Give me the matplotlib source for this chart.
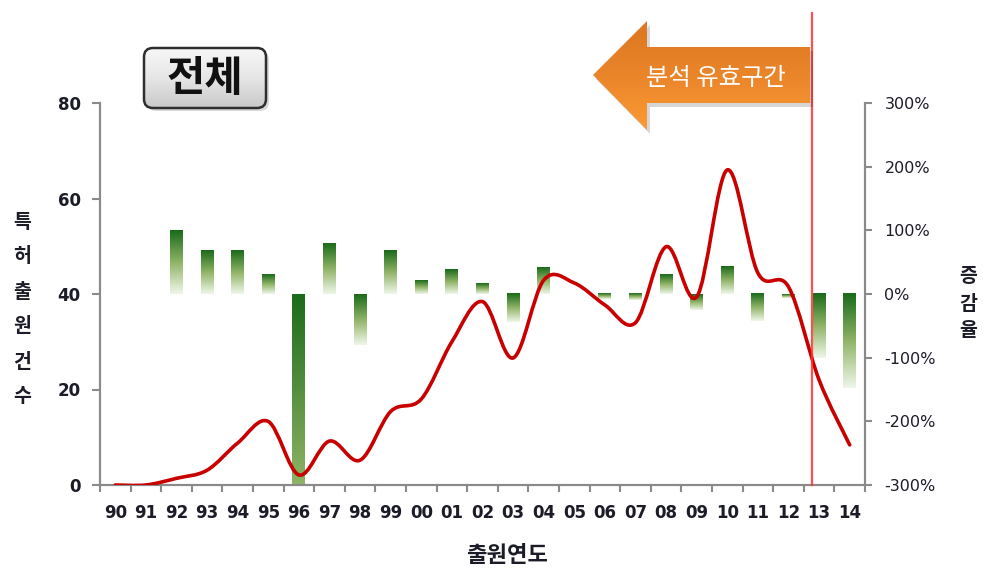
import matplotlib
matplotlib.use("Agg")
import matplotlib.pyplot as plt
import numpy as np
from matplotlib.colors import LinearSegmentedColormap
from matplotlib.patches import PathPatch, Polygon, FancyBboxPatch
from matplotlib.path import Path

plt.rcParams['font.family'] = ['Noto Sans CJK KR', 'DejaVu Sans']

# filing year labels (1990 - 2014)
years = ['90', '91', '92', '93', '94', '95', '96', '97', '98', '99',
         '00', '01', '02', '03', '04', '05', '06', '07', '08', '09',
         '10', '11', '12', '13', '14']
# number of applications per year (left axis)
counts = [0, 0, 1.4, 3.1, 8.8, 13.3, 2.1, 9.2, 5.2, 15.4,
          18, 30, 38.4, 26.6, 42.9, 42.3, 37.7, 34, 49.9, 39.4,
          66, 44.4, 41.5, 22, 8.4]
# year-on-year change in % (right axis)
rates = [0, 0, 100, 68, 68, 31, -300, 80, -80, 68,
         21, 39, 17, -44, 41, 0, -8, -10, 31, -25,
         43, -43, -6, -101, -148]
cutoff = 22.78  # end of the valid analysis window

W, H = 983, 570
fig = plt.figure(figsize=(W / 100, H / 100), dpi=100)
ax2 = fig.add_axes([100 / W, 85 / H, 765 / W, 382 / H])
ax = ax2.twinx()
ax.yaxis.tick_left()
ax2.yaxis.tick_right()
ax.set_zorder(ax2.get_zorder() + 1)
ax.patch.set_visible(False)

x = np.arange(len(years))
txt = '#1c1c28'
grey = '#8a8a8a'
num_font = 'DejaVu Sans'

# growth-rate bars with a vertical green gradient (dark on top)
greens = LinearSegmentedColormap.from_list('g', ['#1b6b1b', '#8fb366', '#eef6e8'])
bw = 0.42
for xi, r in zip(x, rates):
    if r == 0:
        continue
    t_end = min(1.0, 150 / abs(r))
    grad = np.linspace(0, t_end, 64).reshape(-1, 1)
    top, bot = max(r, 0), min(r, 0)
    ax2.imshow(grad, cmap=greens, vmin=0, vmax=1, aspect='auto', origin='upper',
               extent=[xi - bw / 2, xi + bw / 2, bot, top], zorder=2)

ax2.set_xlim(-0.5, len(years) - 0.5)
ax2.set_ylim(-300, 300)
ax2.set_yticks(np.arange(-300, 301, 100))
ax2.set_yticklabels([f'{v}%' for v in range(-300, 301, 100)])

# smoothed count line: cubic bezier segments through every point
pts = np.column_stack([x, counts]).astype(float)
ext = np.vstack([pts[0], pts, pts[-1]])
verts = [pts[0]]
codes = [Path.MOVETO]
for i in range(len(pts) - 1):
    p0, p1, p2, p3 = ext[i], ext[i + 1], ext[i + 2], ext[i + 3]
    c1 = p1 + (p2 - p0) / 6
    c2 = p2 - (p3 - p1) / 6
    verts += [c1, c2, p2]
    codes += [Path.CURVE4] * 3
ax.add_patch(PathPatch(Path(verts, codes), fill=False, edgecolor='#c80000',
                       lw=2.6, capstyle='round', joinstyle='round', zorder=3))

ax.axvline(cutoff, ymin=0, ymax=1.235, color='#ff3030', lw=1.6, alpha=0.85,
           clip_on=False, zorder=4)

ax.set_xlim(-0.5, len(years) - 0.5)
ax.set_ylim(0, 80)
ax.set_yticks(np.arange(0, 81, 20))

for a in (ax, ax2):
    a.spines['top'].set_visible(False)
    for s in ('left', 'right', 'bottom'):
        a.spines[s].set_color(grey)
        a.spines[s].set_linewidth(1.5)

ax2.set_xticks(x)
ax2.set_xticklabels(years)
ax2.set_xticks(np.arange(-0.5, len(years)), minor=True)
ax2.tick_params(axis='x', which='major', length=0, pad=14, labelsize=12,
                labelcolor=txt)
ax2.tick_params(axis='x', which='minor', length=5, width=1.5, color=grey)
for lab in ax2.get_xticklabels():
    lab.set_fontweight('bold')
    lab.set_family(num_font)
ax2.tick_params(axis='y', length=5, width=1.5, color=grey, pad=9,
                labelsize=11.5, labelcolor=txt)
for lab in ax2.get_yticklabels():
    lab.set_family(num_font)
ax.tick_params(axis='y', length=6, width=1.5, color=grey, pad=8,
               labelsize=12, labelcolor=txt)
for lab in ax.get_yticklabels():
    lab.set_fontweight('bold')
    lab.set_family(num_font)
ax.tick_params(axis='x', bottom=False, labelbottom=False)

# overlay in pixel coordinates for the callouts and axis titles
ov = fig.add_axes([0, 0, 1, 1], zorder=10)
ov.axis('off')

# axis titles, written one character per line
for ch, yp in zip('특허출원건수', [222, 257, 292, 327, 362, 397]):
    ov.text(22, yp, ch, ha='center', va='center', fontsize=14,
            fontweight='bold', color=txt)
for ch, yp in zip('증감율', [277, 304, 331]):
    ov.text(968, yp, ch, ha='center', va='center', fontsize=14,
            fontweight='bold', color=txt)
ov.text(507, 555, '출원연도', ha='center', va='center', fontsize=16,
        fontweight='bold', color=txt)

# "분석 유효구간" arrow pointing left from the cutoff line
arrow_pts = [(593, 75), (647, 21), (647, 47), (810, 47),
             (810, 103), (647, 103), (647, 130)]
shadow = Polygon([(px + 3, py + 4) for px, py in arrow_pts], closed=True,
                 facecolor='#000000', alpha=0.16, edgecolor='none', zorder=1)
ov.add_patch(shadow)
arrow = Polygon(arrow_pts, closed=True, facecolor='none', edgecolor='none',
                zorder=2)
ov.add_patch(arrow)
orange = LinearSegmentedColormap.from_list('o', ['#dc761f', '#ea852a', '#fb9b35'])
im = ov.imshow(np.linspace(0, 1, 64).reshape(-1, 1), cmap=orange, aspect='auto',
               extent=[590, 812, 132, 18], origin='upper', zorder=2)
im.set_clip_path(arrow)
ov.text(716, 78, '분석 유효구간', ha='center', va='center', fontsize=17.5,
        color='white', zorder=3)

# "전체" title box
box_shadow = FancyBboxPatch((147, 51), 122, 60,
                            boxstyle='round,pad=0,rounding_size=9',
                            facecolor='#000000', alpha=0.15, edgecolor='none',
                            zorder=1)
ov.add_patch(box_shadow)
box = FancyBboxPatch((144, 48), 122, 60, boxstyle='round,pad=0,rounding_size=9',
                     facecolor='none', edgecolor='#2e2e2e', lw=1.8, zorder=3)
ov.add_patch(box)
silver = LinearSegmentedColormap.from_list('s', ['#f7f7f7', '#e6e6e6', '#c9c9c9'])
im2 = ov.imshow(np.linspace(0, 1, 64).reshape(-1, 1), cmap=silver, aspect='auto',
                extent=[144, 266, 108, 48], origin='upper', zorder=2)
im2.set_clip_path(box)
ov.text(205, 79, '전체', ha='center', va='center', fontsize=30,
        fontweight='bold', color='#111111', zorder=4)
ov.set_xlim(0, W)
ov.set_ylim(H, 0)

fig.savefig('out.png', dpi=100)
